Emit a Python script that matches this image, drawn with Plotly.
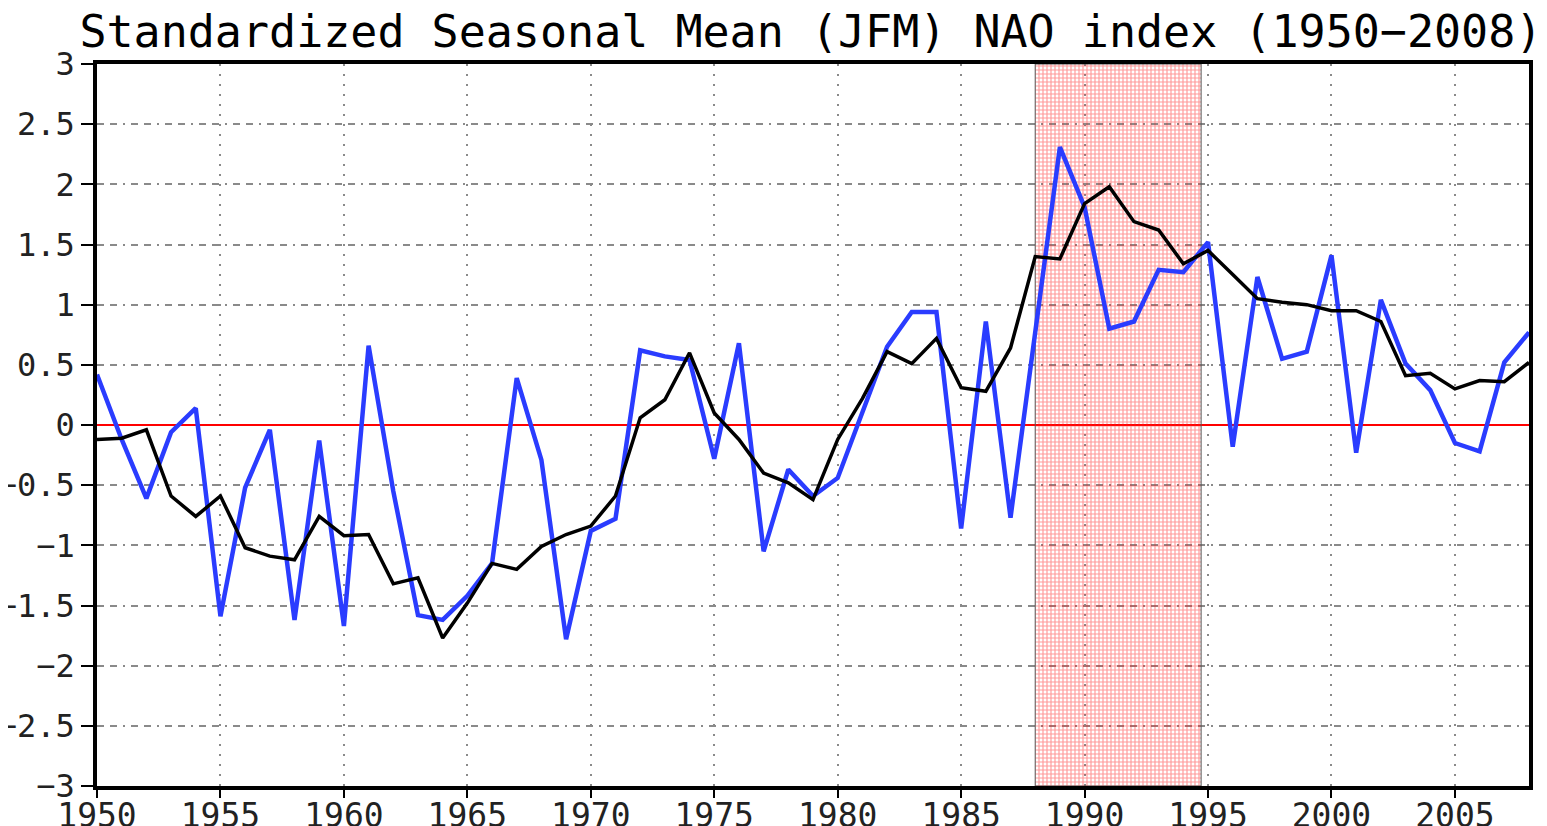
import plotly.graph_objects as go

years = list(range(1950, 2009))

seasonal_nao = [
    0.42, -0.12, -0.61, -0.06, 0.14, -1.59, -0.52, -0.04, -1.62, -0.13,
    -1.67, 0.66, -0.55, -1.58, -1.62, -1.42, -1.15, 0.39, -0.29, -1.78,
    -0.88, -0.78, 0.62, 0.57, 0.54, -0.28, 0.68, -1.05, -0.37, -0.59,
    -0.44, 0.10, 0.65, 0.94, 0.94, -0.86, 0.86, -0.77, 0.75, 2.31,
    1.81, 0.80, 0.86, 1.29, 1.27, 1.52, -0.18, 1.23, 0.55, 0.61,
    1.41, -0.23, 1.04, 0.51, 0.29, -0.15, -0.22, 0.52, 0.77,
]

smoothed_nao = [
    -0.12, -0.11, -0.04, -0.59, -0.76, -0.59, -1.02, -1.09, -1.12, -0.76,
    -0.92, -0.91, -1.32, -1.27, -1.77, -1.48, -1.15, -1.20, -1.01, -0.91,
    -0.84, -0.59, 0.06, 0.21, 0.60, 0.10, -0.12, -0.40, -0.48, -0.62,
    -0.12, 0.22, 0.61, 0.51, 0.72, 0.31, 0.28, 0.64, 1.40, 1.38,
    1.84, 1.98, 1.69, 1.62, 1.34, 1.45, 1.25, 1.05, 1.02, 1.00,
    0.95, 0.95, 0.86, 0.41, 0.43, 0.30, 0.37, 0.36, 0.52,
]

shade_start = 1988.0
shade_end = 1994.72

x_ticks = list(range(1950, 2009, 5))
y_ticks = [3, 2.5, 2, 1.5, 1, 0.5, 0, -0.5, -1, -1.5, -2, -2.5, -3]
y_tick_text = ["3", "2.5", "2", "1.5", "1", "0.5", "0", "\u22120.5",
               "\u22121", "\u22121.5", "\u22122", "\u22122.5", "\u22123"]

title_text = "Standardized Seasonal Mean (JFM) NAO index (1950\u22122008)"

fig = go.Figure()

# shaded period (hatched red)
fig.add_trace(go.Scatter(
    x=[shade_start, shade_end, shade_end, shade_start, shade_start],
    y=[-3, -3, 3, 3, -3],
    mode="lines",
    fill="toself",
    line=dict(color="#555555", width=1),
    fillcolor="rgba(255,80,80,0.35)",
    fillpattern=dict(shape="+", fgcolor="rgba(255,30,30,0.9)",
                     bgcolor="rgba(255,255,255,0)", size=4, solidity=0.5),
    hoverinfo="skip",
    showlegend=False,
))

fig.add_trace(go.Scatter(
    x=years, y=seasonal_nao, mode="lines",
    line=dict(color="#2a3cff", width=4.5),
    showlegend=False,
))

fig.add_trace(go.Scatter(
    x=years, y=smoothed_nao, mode="lines",
    line=dict(color="black", width=3.5),
    showlegend=False,
))

fig.update_layout(
    width=1547, height=826,
    margin=dict(l=89, r=26, t=56, b=48, autoexpand=False),
    paper_bgcolor="white",
    plot_bgcolor="white",
    title=dict(text=title_text, x=0.519, xanchor="center", y=0.972, yanchor="middle",
               font=dict(family="DejaVu Sans Mono", size=45, color="black")),
    font=dict(family="DejaVu Sans Mono", color="black"),
)

fig.update_xaxes(
    range=[1950, 2008],
    tickvals=x_ticks,
    ticktext=[str(t) for t in x_ticks],
    tickfont=dict(size=33, family="DejaVu Sans Mono", color="#222222"),
    ticks="outside", ticklen=8, tickwidth=2, tickcolor="black",
    ticklabelstandoff=-10,
    showline=True, linecolor="black", linewidth=3.5, mirror=True,
    showgrid=True, gridcolor="#8a8a8a", gridwidth=1.5, griddash="2px,8px",
    zeroline=False,
    automargin=False,
)

fig.update_yaxes(
    range=[-3, 3],
    tickvals=y_ticks,
    ticktext=y_tick_text,
    tickfont=dict(size=32, family="DejaVu Sans Mono", color="#222222"),
    ticks="outside", ticklen=12, tickwidth=2, tickcolor="black",
    showline=True, linecolor="black", linewidth=3.5, mirror=True,
    showgrid=True, gridcolor="#8a8a8a", gridwidth=1.5, griddash="7px,6px,7px,6px,2px,6px",
    zeroline=True, zerolinecolor="red", zerolinewidth=1.5,
    automargin=False,
)

fig.write_html("out.html")
